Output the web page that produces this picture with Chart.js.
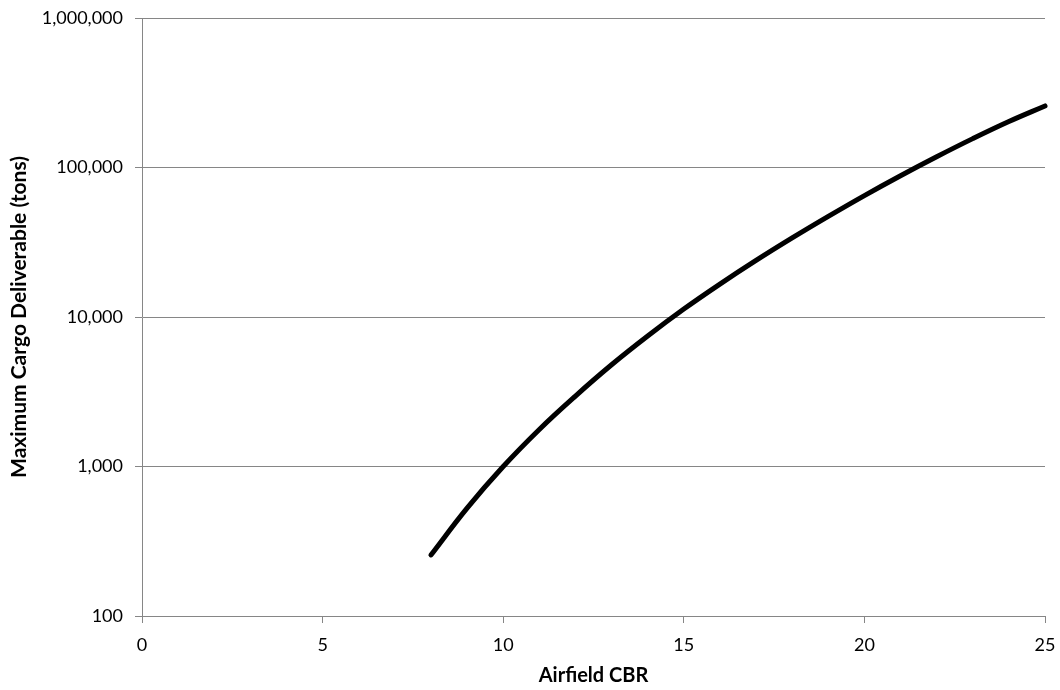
<!DOCTYPE html>
<html>
<head>
<meta charset="utf-8">
<script src="https://cdn.jsdelivr.net/npm/chart.js@4/dist/chart.umd.min.js"></script>
<style>
  body { margin: 0; background: #fff; }
  #wrap { width: 1060px; height: 690px; }
</style>
</head>
<body>
<div id="wrap"><canvas id="myChart" width="1060" height="690"></canvas></div>
<script>
// airfield CBR vs max cargo
let cbr = [8, 9, 10, 11, 12, 13, 14, 15, 16, 17, 18, 19, 20, 21, 22, 23, 24, 25];
let cargo = [256, 527, 1000, 1770, 2960, 4790, 7460, 11300, 16600, 23900, 33800, 47100, 64900, 88100, 118000, 156000, 203000, 258000];

let yTicks = [100, 1000, 10000, 100000, 1000000];
let xTicks = [0, 5, 10, 15, 20, 25];

let gridGray = "#868686";
let tickFont = { family: "Lato", size: 18 };
let titleFont = { family: "Lato", size: 20, weight: "bold" };

let points = cbr.map((c, i) => ({ x: c, y: cargo[i] }));

let config = {
    type: "line",
    data: {
        datasets: [
            {
                label: "Max cargo",
                data: points,
                borderColor: "#000",
                borderWidth: 5,
                borderCapStyle: "round",
                pointRadius: 0,
                fill: false,
                tension: 0.4,
                clip: false
            }
        ]
    },
    options: {
        responsive: false,
        animation: false,
        layout: {
            padding: { left: 0, right: 15, top: 18, bottom: 0 }
        },
        plugins: {
            legend: { display: false },
            tooltip: { enabled: false }
        },
        scales: {
            x: {
                type: "linear",
                min: xTicks[0],
                max: xTicks[xTicks.length - 1],
                afterBuildTicks: (s) => { s.ticks = xTicks.map(v => ({ value: v })); },
                afterFit: (s) => {
                    s.height = 74;
                    s.paddingLeft = 0;
                    s.paddingRight = 0;
                },
                grid: {
                    drawOnChartArea: false,
                    drawTicks: true,
                    tickLength: 7,
                    color: gridGray
                },
                border: { color: gridGray, width: 1 },
                ticks: {
                    color: "#000",
                    font: tickFont,
                    padding: 11,
                    maxRotation: 0
                },
                title: {
                    display: true,
                    text: "Airfield CBR",
                    color: "#000",
                    font: titleFont,
                    padding: { top: 0, bottom: 2 }
                }
            },
            y: {
                type: "logarithmic",
                min: yTicks[0],
                max: yTicks[yTicks.length - 1],
                afterBuildTicks: (s) => { s.ticks = yTicks.map(v => ({ value: v })); },
                afterFit: (s) => {
                    s.width = 142;
                    s.paddingTop = 0;
                    s.paddingBottom = 0;
                },
                grid: {
                    drawTicks: true,
                    tickLength: 7,
                    color: gridGray
                },
                border: { color: gridGray, width: 1 },
                ticks: {
                    color: "#000",
                    font: tickFont,
                    padding: 12,
                    callback: (v) => Number(v).toLocaleString("en-US")
                },
                title: {
                    display: true,
                    text: "Maximum Cargo Deliverable (tons)",
                    color: "#000",
                    font: { family: "Lato", size: 21, weight: "bold" },
                    padding: { top: 7, bottom: 0 }
                }
            }
        }
    }
};

let ctx = document.getElementById("myChart").getContext("2d");
let myChart = new Chart(ctx, config);
</script>
</body>
</html>
